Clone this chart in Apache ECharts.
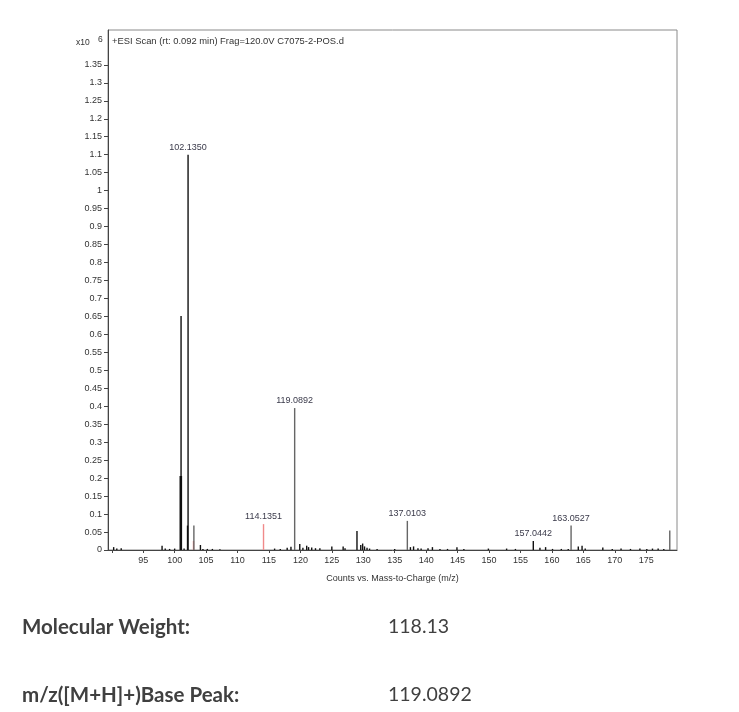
<!DOCTYPE html>
<html>
<head>
<meta charset="utf-8">
<script src="https://cdn.jsdelivr.net/npm/echarts@6/dist/echarts.min.js"></script>
<style>
  html, body { margin: 0; padding: 0; background: #fff; }
  #chart { width: 739px; height: 712px; }
</style>
</head>
<body>
<div id="chart"></div>
<script>
// m/z of each peak and its intensity (x10^6 counts)
var mzValues = [
  90.3, 90.8, 91.5, 98.0, 98.5, 99.2, 100.0, 100.98, 101.02, 101.5,
  102.05, 102.135, 103.0, 103.06, 104.1, 104.5, 105.2, 106.0, 107.2,
  114.1351, 115.9, 116.8, 117.9, 118.5, 119.0892, 119.9, 120.4, 121.0, 121.3,
  121.8, 122.4, 123.1, 125.0, 126.8, 127.1, 129.0, 129.6, 129.9, 130.2,
  130.6, 131.0, 132.2, 135.0, 137.0103, 137.5, 138.0, 138.7, 139.2, 140.3,
  141.0, 142.2, 143.4, 144.9, 146.0, 149.9, 152.8, 154.2, 157.0442, 158.1,
  159.0, 160.1, 161.5, 162.6, 163.0527, 164.2, 164.8, 165.3, 168.1, 169.6,
  171.0, 172.5, 174.0, 175.1, 176.0, 176.9, 177.8, 178.75
];
var intensities = [
  0.008, 0.004, 0.005, 0.012, 0.004, 0.003, 0.004, 0.206, 0.651, 0.004,
  0.068, 1.100, 0.025, 0.068, 0.014, 0.003, 0.003, 0.003, 0.002,
  0.072, 0.004, 0.003, 0.006, 0.009, 0.395, 0.017, 0.006, 0.012, 0.008,
  0.007, 0.005, 0.005, 0.010, 0.010, 0.005, 0.053, 0.014, 0.018, 0.010,
  0.006, 0.004, 0.003, 0.003, 0.081, 0.008, 0.010, 0.005, 0.004, 0.005,
  0.008, 0.003, 0.003, 0.008, 0.003, 0.004, 0.004, 0.003, 0.025, 0.006,
  0.008, 0.003, 0.003, 0.003, 0.068, 0.010, 0.012, 0.004, 0.007, 0.003,
  0.004, 0.003, 0.004, 0.003, 0.004, 0.004, 0.003, 0.054
];
// labelled peaks
var labelledPeaks = [102.135, 114.1351, 119.0892, 137.0103, 157.0442, 163.0527];
var peakLabels = ['102.1350', '114.1351', '119.0892', '137.0103', '157.0442', '163.0527'];

var xTicks = [90, 95, 100, 105, 110, 115, 120, 125, 130, 135, 140, 145, 150, 155, 160, 165, 170, 175];
var xLabels = [95, 100, 105, 110, 115, 120, 125, 130, 135, 140, 145, 150, 155, 160, 165, 170, 175];
var yTicks = [0, 0.05, 0.1, 0.15, 0.2, 0.25, 0.3, 0.35, 0.4, 0.45, 0.5, 0.55, 0.6, 0.65,
  0.7, 0.75, 0.8, 0.85, 0.9, 0.95, 1, 1.05, 1.1, 1.15, 1.2, 1.25, 1.3, 1.35];

var infoRows = [
  ['Molecular Weight:', '118.13'],
  ['m/z([M+H]+)Base Peak:', '119.0892']
];

// 样式
var redPeaks = [103.0, 114.1351];
var grayPeaks = [103.06, 119.0892, 137.0103, 163.0527, 178.75];
var thickPeaks = [100.98];

var peakData = [];
for (var i = 0; i < mzValues.length; i++) {
  peakData.push([mzValues[i], intensities[i]]);
}

var chart = echarts.init(document.getElementById('chart'));
var font = 'Liberation Sans, Arial, sans-serif';

var option = {
  animation: false,
  grid: {
    left: 108, right: 62, top: 30, bottom: 162,
    show: true, borderColor: '#8a8a8a', borderWidth: 1
  },
  xAxis: {
    type: 'value',
    min: 89.4, max: 179.9,
    axisLine: { show: true, onZero: false, lineStyle: { color: '#444' } },
    axisTick: { show: true, length: 3, customValues: xTicks, lineStyle: { color: '#444' } },
    axisLabel: { customValues: xLabels, color: '#333', fontSize: 9, fontFamily: font, margin: 6 },
    splitLine: { show: false },
    name: 'Counts vs. Mass-to-Charge (m/z)',
    nameLocation: 'middle',
    nameGap: 24,
    nameTextStyle: { color: '#333', fontSize: 9, fontFamily: font }
  },
  yAxis: {
    type: 'value',
    min: 0, max: 1.447,
    axisLine: { show: true, lineStyle: { color: '#444' } },
    axisTick: { show: true, length: 4, customValues: yTicks, lineStyle: { color: '#444' } },
    axisLabel: {
      customValues: yTicks, color: '#333', fontSize: 9, fontFamily: font, margin: 6,
      formatter: function (v) { return String(Math.round(v * 100) / 100); }
    },
    splitLine: { show: false }
  },
  graphic: [
    {
      type: 'text', left: 76, top: 38,
      style: { text: 'x10', fill: '#333', font: '8.5px ' + font }
    },
    {
      type: 'text', left: 98, top: 35,
      style: { text: '6', fill: '#333', font: '8.5px ' + font }
    },
    {
      type: 'text', left: 112, top: 37,
      style: { text: '+ESI Scan (rt: 0.092 min) Frag=120.0V C7075-2-POS.d', fill: '#333', font: '9.4px ' + font }
    }
  ],
  series: [{
    type: 'custom',
    data: peakData,
    clip: true,
    renderItem: function (params, api) {
      var mz = api.value(0);
      var top = api.coord([mz, api.value(1)]);
      var base = api.coord([mz, 0]);
      var color = '#111';
      if (redPeaks.indexOf(mz) >= 0) color = '#f08a8a';
      else if (grayPeaks.indexOf(mz) >= 0) color = '#666';
      var w = thickPeaks.indexOf(mz) >= 0 ? 2.6 : 1.4;
      var children = [{
        type: 'line',
        shape: { x1: top[0], y1: top[1], x2: base[0], y2: base[1] },
        style: { stroke: color, lineWidth: w }
      }];
      var k = labelledPeaks.indexOf(mz);
      if (k >= 0) {
        children.push({
          type: 'text',
          style: {
            text: peakLabels[k], x: top[0], y: top[1] - 3,
            textAlign: 'center', textVerticalAlign: 'bottom',
            fill: '#3a3a4a', font: '9px ' + font
          }
        });
      }
      return { type: 'group', children: children };
    }
  }]
};

infoRows.forEach(function (row, r) {
  var y = 617 + r * 68;
  option.graphic.push({
    type: 'text', left: 22, top: y,
    style: { text: row[0], fill: '#404040', font: 'bold 20.5px Lato, sans-serif' }
  });
  option.graphic.push({
    type: 'text', left: 388, top: y,
    style: { text: row[1], fill: '#404040', font: '19.5px Lato, sans-serif' }
  });
});

chart.setOption(option);
</script>
</body>
</html>
